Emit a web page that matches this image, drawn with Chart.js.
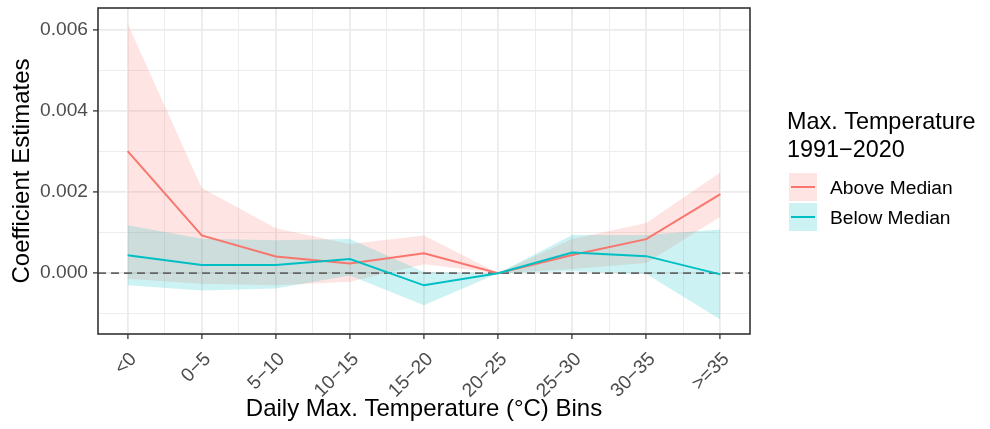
<!DOCTYPE html>
<html>
<head>
<meta charset="utf-8">
<title>Coefficient estimates by daily max. temperature bin</title>
<script src="https://cdn.jsdelivr.net/npm/chart.js@4.4.0/dist/chart.umd.min.js"></script>
<style>
  html, body { margin: 0; padding: 0; background: #fff; }
  #wrap { width: 990px; height: 429px; position: relative; }
</style>
</head>
<body>
<div id="wrap"><canvas id="coefChart"></canvas></div>
<script>
// temperature bins (x axis)
const bins = ['<0', '0\u22125', '5\u221210', '10\u221215', '15\u221220', '20\u221225', '25\u221230', '30\u221235', '>=35'];

// above-median group: estimate and 95% band
const aboveEst = [0.00301, 0.00093, 0.00041, 0.00024, 0.00049, 0, 0.00045, 0.00084, 0.00195];
const aboveLo  = [-0.00014, -0.00026, -0.00030, -0.00021, 0.00022, 0, 0.00010, 0.00025, 0.00139];
const aboveHi  = [0.00615, 0.00210, 0.00111, 0.00072, 0.00093, 0, 0.00084, 0.00124, 0.00248];

// below-median group
const belowEst = [0.00044, 0.00020, 0.00020, 0.00035, -0.00030, 0, 0.00051, 0.00042, -0.00003];
const belowLo  = [-0.00030, -0.00043, -0.00038, -0.00006, -0.00079, 0, 0.00005, -0.00002, -0.00114];
const belowHi  = [0.00118, 0.00085, 0.00081, 0.00084, 0.00003, 0, 0.00094, 0.00094, 0.00108];

// y axis breaks
const yMajor = [0, 0.002, 0.004, 0.006];
const yMinor = [-0.001, 0.001, 0.003, 0.005];

const groupNames = ['Above Median', 'Below Median'];
const legendTitle = ['Max. Temperature', '1991\u22122020'];

const RED = '#F8766D';
const TEAL = '#00BFC4';
const RED_BAND = 'rgba(248,118,109,0.2)';
const TEAL_BAND = 'rgba(0,191,196,0.2)';
const FONT = '"Liberation Sans", Arial, Helvetica, sans-serif';
const TITLE_SIZE = 24;
const TEXT_SIZE = 19.2;

Chart.defaults.font.family = FONT;

const pts = arr => arr.map((v, i) => ({ x: i + 1, y: v }));

// x breaks: one per bin, minor ones half way between
const xMajor = bins.map((_, i) => i + 1);
const xMinor = xMajor.slice(0, -1).map(v => v + 0.5);
const xTicks = xMajor.concat(xMinor).sort((a, b) => a - b);
const yTicks = yMajor.concat(yMinor).sort((a, b) => a - b);

const isMajorX = v => Number.isInteger(v);
const isMajorY = v => Math.round(v * 10000) % 20 === 0;

const band = (data, color, fill, order) => ({
  data: pts(data),
  borderWidth: 0,
  pointRadius: 0,
  backgroundColor: color,
  fill: fill,
  tension: 0,
  order: order
});

// keep the panel where the layout puts it, ignore label overhang
const noOverhang = s => {
  s.paddingTop = 0;
  s.paddingBottom = 0;
  s.paddingLeft = 0;
  s.paddingRight = 0;
};

// dashed reference line at zero, drawn over the bands and under the lines
const zeroLine = {
  id: 'zeroLine',
  beforeDatasetsDraw(chart) {
    const { ctx, chartArea: a, scales: { y } } = chart;
    const py = y.getPixelForValue(0);
    ctx.save();
    ctx.strokeStyle = '#666666';
    ctx.lineWidth = 1.7;
    ctx.setLineDash([8, 5]);
    ctx.beginPath();
    ctx.moveTo(a.left, py);
    ctx.lineTo(a.right, py);
    ctx.stroke();
    ctx.restore();
  }
};

// panel border
const panelBorder = {
  id: 'panelBorder',
  afterDatasetsDraw(chart) {
    const { ctx, chartArea: a } = chart;
    ctx.save();
    ctx.strokeStyle = '#333333';
    ctx.lineWidth = 1.6;
    ctx.strokeRect(a.left, a.top, a.right - a.left, a.bottom - a.top);
    ctx.restore();
  }
};

// legend on the right: title, filled key with a line through it, label
const bandLegend = {
  id: 'bandLegend',
  afterDraw(chart) {
    const ctx = chart.ctx;
    const keys = [
      { label: groupNames[0], line: RED, fill: RED_BAND },
      { label: groupNames[1], line: TEAL, fill: TEAL_BAND }
    ];
    ctx.save();
    ctx.fillStyle = '#000';
    ctx.textBaseline = 'alphabetic';
    ctx.font = '23.4px ' + FONT;
    ctx.fillText(legendTitle[0], 787, 129);
    ctx.fillText(legendTitle[1], 787, 157);
    ctx.font = TEXT_SIZE + 'px ' + FONT;
    keys.forEach((k, i) => {
      const top = 173 + i * 30;
      ctx.fillStyle = k.fill;
      ctx.fillRect(789, top, 28, 28);
      ctx.strokeStyle = k.line;
      ctx.lineWidth = 2;
      ctx.beginPath();
      ctx.moveTo(791, top + 14);
      ctx.lineTo(815, top + 14);
      ctx.stroke();
      ctx.fillStyle = '#000';
      ctx.fillText(k.label, 830, top + 21);
    });
    ctx.restore();
  }
};

new Chart(document.getElementById('coefChart'), {
  type: 'line',
  data: {
    datasets: [
      { label: groupNames[1], data: pts(belowEst), borderColor: TEAL, borderWidth: 2, pointRadius: 0, fill: false, tension: 0, order: 0 },
      { label: groupNames[0], data: pts(aboveEst), borderColor: RED, borderWidth: 2, pointRadius: 0, fill: false, tension: 0, order: 1 },
      band(belowHi, TEAL_BAND, '+1', 2),
      band(belowLo, TEAL_BAND, false, 2),
      band(aboveHi, RED_BAND, '+1', 3),
      band(aboveLo, RED_BAND, false, 3)
    ]
  },
  options: {
    responsive: true,
    maintainAspectRatio: false,
    animation: false,
    layout: { padding: { top: 8, right: 240, bottom: 0, left: 0 } },
    plugins: {
      legend: { display: false },
      tooltip: { enabled: false },
      filler: { drawTime: 'beforeDatasetsDraw' }
    },
    scales: {
      x: {
        type: 'linear',
        min: 0.6,
        max: 9.4,
        afterBuildTicks: s => { s.ticks = xTicks.map(v => ({ value: v })); },
        afterFit: s => { s.height = 95; noOverhang(s); },
        border: { display: false },
        grid: {
          color: '#ebebeb',
          lineWidth: c => (c.tick && isMajorX(c.tick.value)) ? 1.8 : 0.9,
          tickColor: c => (c.tick && isMajorX(c.tick.value)) ? '#333333' : 'rgba(0,0,0,0)',
          tickLength: 5,
          tickWidth: 1.3
        },
        ticks: {
          autoSkip: false,
          minRotation: 45,
          maxRotation: 45,
          padding: 9,
          labelOffset: 6,
          color: '#4d4d4d',
          font: { size: TEXT_SIZE },
          callback: v => isMajorX(v) ? bins[v - 1] : ''
        },
        title: {
          display: true,
          text: 'Daily Max. Temperature (\u00b0C) Bins',
          color: '#000',
          font: { size: TITLE_SIZE },
          padding: { top: 0, bottom: 5 }
        }
      },
      y: {
        min: -0.0015,
        max: 0.00654,
        afterBuildTicks: s => { s.ticks = yTicks.map(v => ({ value: v })); },
        afterFit: s => { s.width = 98; noOverhang(s); },
        border: { display: false },
        grid: {
          color: '#ebebeb',
          lineWidth: c => (c.tick && isMajorY(c.tick.value)) ? 1.8 : 0.9,
          tickColor: c => (c.tick && isMajorY(c.tick.value)) ? '#333333' : 'rgba(0,0,0,0)',
          tickLength: 5,
          tickWidth: 1.3
        },
        ticks: {
          padding: 5,
          color: '#4d4d4d',
          font: { size: TEXT_SIZE },
          callback: v => isMajorY(v) ? v.toFixed(3) : ''
        },
        title: {
          display: true,
          text: 'Coefficient Estimates',
          color: '#000',
          font: { size: TITLE_SIZE },
          padding: { top: 7.5, bottom: 0 }
        }
      }
    }
  },
  plugins: [zeroLine, panelBorder, bandLegend]
});
</script>
</body>
</html>
